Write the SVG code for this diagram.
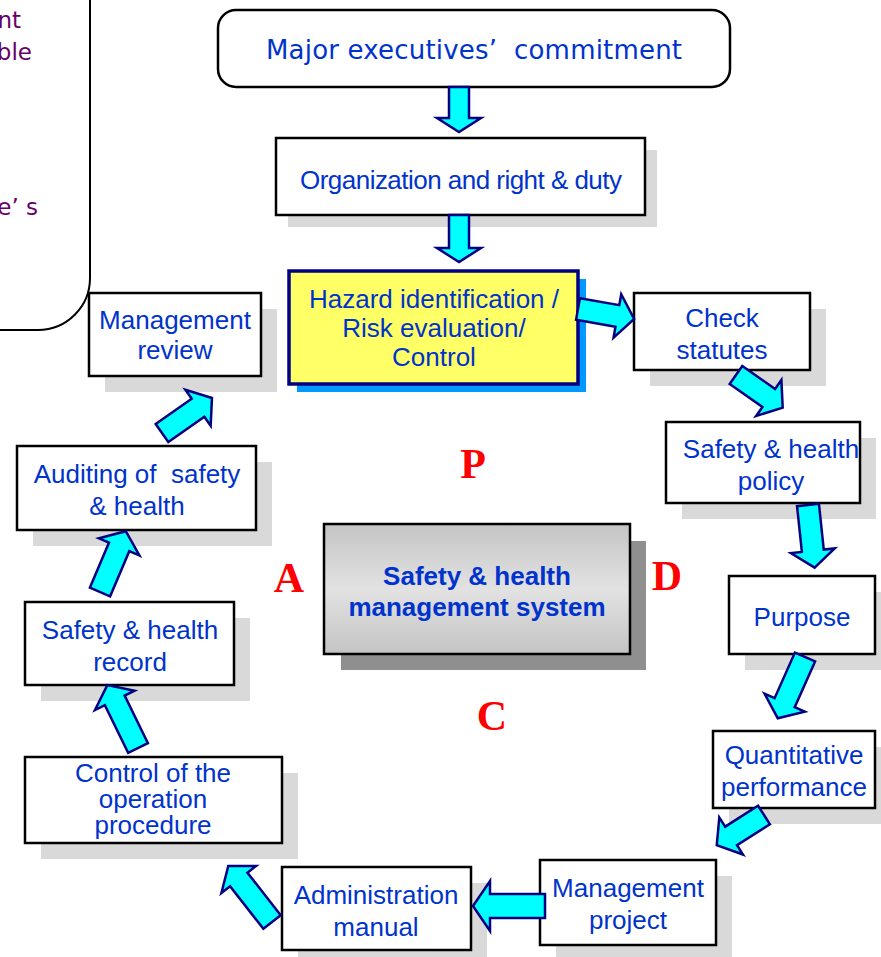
<svg xmlns="http://www.w3.org/2000/svg" width="881" height="957" viewBox="0 0 881 957">
<defs>
<linearGradient id="gc" x1="0" y1="0" x2="0" y2="1">
<stop offset="0" stop-color="#c4c4c4"/>
<stop offset="0.5" stop-color="#e2e2e2"/>
<stop offset="1" stop-color="#c4c4c4"/>
</linearGradient>
</defs>
<style>
.box{fill:#ffffff;stroke:#000000;stroke-width:2.5}
.sh{fill:#d9d9d9}
.t{font-family:"Liberation Sans",Arial,sans-serif;font-size:26px;fill:#0033cc;text-anchor:middle}
.g{font-family:"DejaVu Sans","Liberation Sans",sans-serif}
.pt{font-family:"DejaVu Sans","Liberation Sans",sans-serif;font-size:23px;fill:#660066;text-anchor:end}
.big{font-family:"Liberation Serif","Times New Roman",serif;font-size:42px;font-weight:bold;fill:#ff0000;text-anchor:middle}
.arr{fill:#00ffff;stroke:#000080;stroke-width:2.5;stroke-linejoin:miter}
</style>
<rect width="881" height="957" fill="#ffffff"/>

<g id="note">
<rect x="-80" y="-60" width="170" height="390" rx="52" fill="#ffffff" stroke="#000000" stroke-width="2"/>
<text class="pt" x="21" y="28">nt</text>
<text class="pt" x="32" y="60">ble</text>
<text class="pt" x="38" y="215" xml:space="preserve">e’ s</text>
</g>

<g id="commitment">
<rect x="218" y="10" width="512" height="77" rx="18" fill="#ffffff" stroke="#000000" stroke-width="2.5"/>
<text class="t g" x="474" y="59" font-size="25" textLength="416" lengthAdjust="spacing" xml:space="preserve">Major executives’  commitment</text>
</g>

<g id="organization">
<rect class="sh" x="288" y="150" width="369" height="77"/>
<rect class="box" x="276" y="138" width="369" height="77"/>
<text class="t" x="461" y="189" font-size="22" textLength="322" lengthAdjust="spacing">Organization and right &amp; duty</text>
</g>

<g id="hazard">
<rect x="297" y="279" width="289" height="113" fill="#0099ff"/>
<rect x="289" y="271" width="289" height="113" fill="#ffff66" stroke="#000080" stroke-width="3.5"/>
<text class="t" x="434" y="308" font-size="22">Hazard identification /</text>
<text class="t" x="434" y="337" font-size="22">Risk evaluation/</text>
<text class="t" x="434" y="366" font-size="22">Control</text>
</g>

<g id="check">
<rect class="sh" x="650" y="309" width="176" height="77"/>
<rect class="box" x="634" y="293" width="176" height="77"/>
<text class="t" x="722" y="327">Check</text>
<text class="t" x="722" y="359">statutes</text>
</g>

<g id="policy">
<rect class="sh" x="682" y="438" width="194" height="81"/>
<rect class="box" x="666" y="422" width="194" height="81"/>
<text class="t" x="771" y="458" font-size="25.5">Safety &amp; health</text>
<text class="t" x="771" y="490" font-size="25.5">policy</text>
</g>

<g id="purpose">
<rect class="sh" x="745" y="592" width="146" height="78"/>
<rect class="box" x="729" y="576" width="146" height="78"/>
<text class="t" x="802" y="626">Purpose</text>
</g>

<g id="quantitative">
<rect class="sh" x="729" y="747" width="162" height="77"/>
<rect class="box" x="713" y="731" width="162" height="77"/>
<text class="t" x="794" y="764">Quantitative</text>
<text class="t" x="794" y="796">performance</text>
</g>

<g id="project">
<rect class="sh" x="556" y="876" width="176" height="85"/>
<rect class="box" x="540" y="860" width="176" height="85"/>
<text class="t" x="628" y="897">Management</text>
<text class="t" x="628" y="929">project</text>
</g>

<g id="admin">
<rect class="sh" x="298" y="883" width="189" height="83"/>
<rect class="box" x="282" y="867" width="189" height="83"/>
<text class="t" x="376" y="904">Administration</text>
<text class="t" x="376" y="936">manual</text>
</g>

<g id="control">
<rect class="sh" x="41" y="773" width="257" height="86"/>
<rect class="box" x="25" y="757" width="257" height="86"/>
<text class="t" x="153" y="782" font-size="24">Control of the</text>
<text class="t" x="153" y="808" font-size="24">operation</text>
<text class="t" x="153" y="834" font-size="24">procedure</text>
</g>

<g id="record">
<rect class="sh" x="41" y="618" width="209" height="83"/>
<rect class="box" x="25" y="602" width="209" height="83"/>
<text class="t" x="130" y="639">Safety &amp; health</text>
<text class="t" x="130" y="671">record</text>
</g>

<g id="auditing">
<rect class="sh" x="33" y="462" width="239" height="84"/>
<rect class="box" x="17" y="446" width="239" height="84"/>
<text class="t" x="137" y="483" xml:space="preserve">Auditing of  safety</text>
<text class="t" x="137" y="515">&amp; health</text>
</g>

<g id="review">
<rect class="sh" x="105" y="309" width="172" height="83"/>
<rect class="box" x="89" y="293" width="172" height="83"/>
<text class="t" x="175" y="329">Management</text>
<text class="t" x="175" y="359">review</text>
</g>

<g id="center">
<rect x="341" y="541" width="305" height="129" fill="#8f8f8f"/>
<rect x="324" y="524" width="306" height="130" fill="url(#gc)" stroke="#000000" stroke-width="2.5"/>
<text class="t" x="477" y="585" font-weight="bold" font-size="25">Safety &amp; health</text>
<text class="t" x="477" y="616" font-weight="bold" font-size="25">management system</text>
</g>

<g id="letters">
<text class="big" x="473" y="478">P</text>
<text class="big" x="289" y="592">A</text>
<text class="big" x="667" y="590">D</text>
<text class="big" x="492" y="730">C</text>
</g>

<g id="connectors">
<path class="arr" transform="translate(459,87) rotate(90)" d="M0,-10 H31 V-22 L45,0 L31,22 V10 H0 Z"/>
<path class="arr" transform="translate(459,215) rotate(90)" d="M0,-10 H33 V-22 L47,0 L33,22 V10 H0 Z"/>
<path class="arr" transform="translate(578,309) rotate(10)" d="M0,-11 H40 V-22 L57,0 L40,22 V11 H0 Z"/>
<path class="arr" transform="translate(736,375) rotate(35)" d="M0,-11 H40 V-22 L57,0 L40,22 V11 H0 Z"/>
<path class="arr" transform="translate(808,505) rotate(84)" d="M0,-11 H46 V-22 L63,0 L46,22 V11 H0 Z"/>
<path class="arr" transform="translate(805,657) rotate(114)" d="M0,-11 H50 V-22 L67,0 L50,22 V11 H0 Z"/>
<path class="arr" transform="translate(764,815) rotate(147.5)" d="M0,-11 H39 V-22 L56,0 L39,22 V11 H0 Z"/>
<path class="arr" transform="translate(545,906) rotate(180)" d="M0,-12 H55 V-25 L72,0 L55,25 V12 H0 Z"/>
<path class="arr" transform="translate(272,922) rotate(232)" d="M0,-11 H54 V-22 L71,0 L54,22 V11 H0 Z"/>
<path class="arr" transform="translate(138,748) rotate(244)" d="M0,-11 H53 V-22 L70,0 L53,22 V11 H0 Z"/>
<path class="arr" transform="translate(100,592) rotate(293)" d="M0,-11 H49 V-22 L66,0 L49,22 V11 H0 Z"/>
<path class="arr" transform="translate(162,433) rotate(325)" d="M0,-11 H44 V-22 L61,0 L44,22 V11 H0 Z"/>
</g>
</svg>
